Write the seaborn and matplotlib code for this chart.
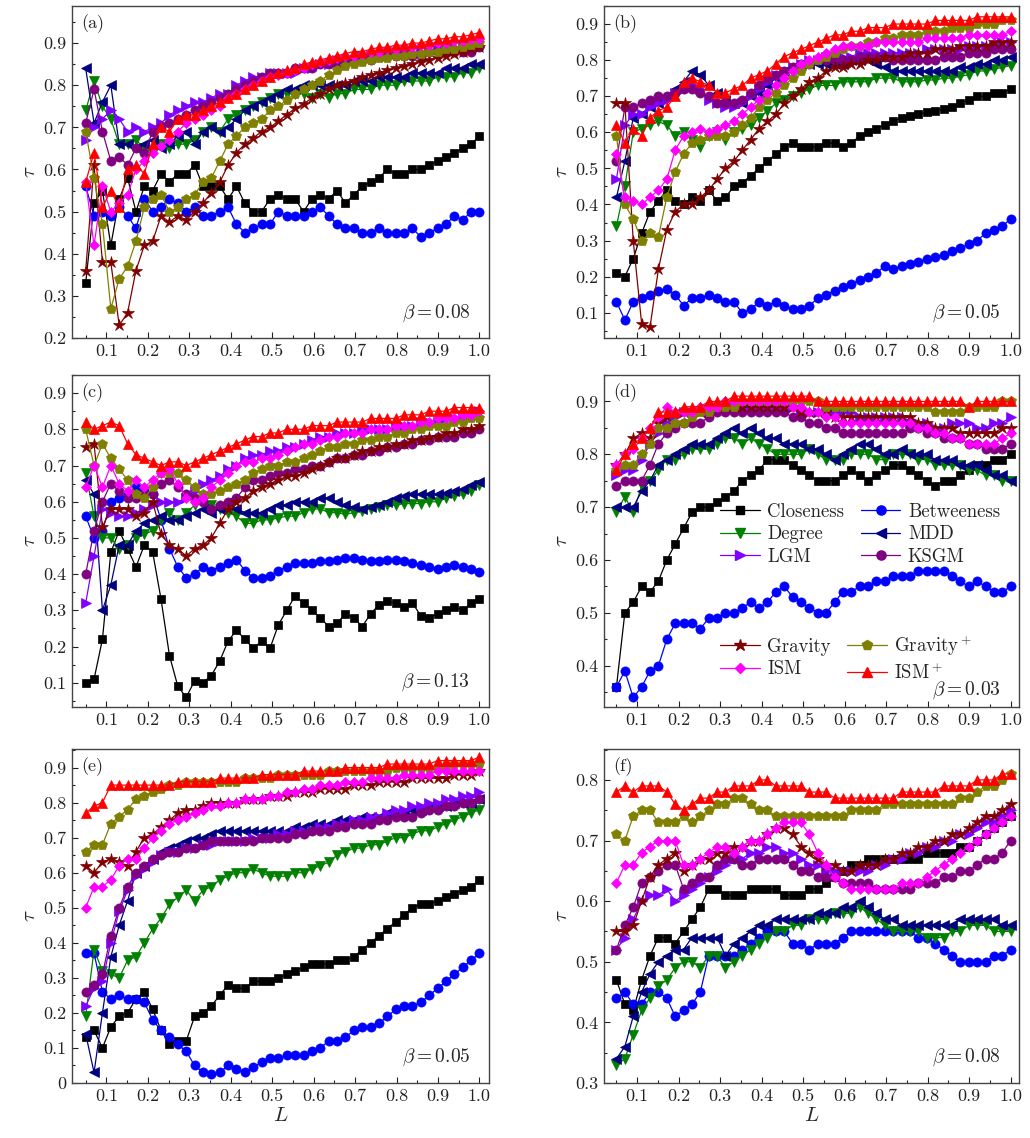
import numpy as np
import pandas as pd
import matplotlib
matplotlib.use("Agg")
import matplotlib.pyplot as plt
import seaborn as sns
from matplotlib.ticker import MultipleLocator, FuncFormatter
from matplotlib.lines import Line2D

# ---------------- data ----------------
L = np.linspace(0.05, 1.0, 48)
method_names = ["Closeness", "Betweeness", "Degree", "MDD", "LGM", "KSGM",
                "Gravity", "Gravity$^+$", "ISM", "ISM$^+$"]
panel_labels = ["(a)", "(b)", "(c)", "(d)", "(e)", "(f)"]
beta_values = ["0.08", "0.05", "0.13", "0.03", "0.05", "0.08"]

# panel (a)
a_closeness = [0.33,0.52,0.55,0.42,0.53,0.58,0.50,0.56, 0.55,0.59,0.57,0.59,0.59,0.61,0.56,0.56,
               0.56,0.53,0.56,0.52,0.50,0.50,0.53,0.54, 0.53,0.53,0.50,0.53,0.54,0.53,0.55,0.52,
               0.54,0.56,0.57,0.58,0.60,0.59,0.59,0.60, 0.60,0.61,0.62,0.63,0.64,0.65,0.66,0.68]
a_betweeness = [0.56,0.49,0.50,0.49,0.51,0.49,0.46,0.53, 0.50,0.51,0.53,0.52,0.50,0.51,0.49,0.49,
                0.50,0.51,0.47,0.45,0.46,0.47,0.47,0.50, 0.49,0.49,0.49,0.50,0.51,0.49,0.47,0.46,
                0.46,0.45,0.45,0.46,0.45,0.45,0.45,0.46, 0.44,0.45,0.46,0.47,0.49,0.48,0.50,0.50]
a_degree = [0.74,0.81,0.75,0.72,0.66,0.66,0.67,0.65, 0.64,0.66,0.65,0.66,0.66,0.67,0.69,0.70,
            0.69,0.72,0.73,0.74,0.75,0.76,0.77,0.78, 0.78,0.78,0.78,0.77,0.78,0.77,0.78,0.78,
            0.79,0.79,0.79,0.80,0.80,0.80,0.81,0.81, 0.81,0.81,0.82,0.82,0.82,0.83,0.83,0.84]
a_mdd = [0.84,0.71,0.76,0.80,0.66,0.66,0.65,0.66, 0.67,0.65,0.66,0.68,0.69,0.66,0.69,0.70,
         0.69,0.70,0.72,0.74,0.75,0.76,0.77,0.78, 0.79,0.79,0.80,0.80,0.80,0.80,0.80,0.80,
         0.81,0.81,0.81,0.82,0.82,0.82,0.82,0.83, 0.83,0.83,0.83,0.84,0.84,0.84,0.85,0.85]
a_lgm = [0.67,0.70,0.72,0.74,0.72,0.69,0.70,0.69, 0.70,0.71,0.73,0.74,0.75,0.76,0.76,0.77,
         0.78,0.78,0.80,0.81,0.82,0.82,0.83,0.83, 0.83,0.83,0.84,0.84,0.85,0.85,0.86,0.86,
         0.86,0.87,0.87,0.87,0.87,0.88,0.88,0.88, 0.88,0.88,0.89,0.89,0.89,0.89,0.89,0.89]
a_ksgm = [0.71,0.79,0.69,0.62,0.63,0.61,0.65,0.64, 0.69,0.70,0.71,0.72,0.73,0.74,0.75,0.76,
          0.77,0.78,0.79,0.80,0.81,0.82,0.83,0.83, 0.83,0.84,0.84,0.84,0.85,0.85,0.85,0.86,
          0.86,0.86,0.86,0.87,0.87,0.87,0.87,0.87, 0.87,0.88,0.88,0.88,0.88,0.88,0.88,0.89]
a_gravity = [0.36,0.61,0.38,0.38,0.23,0.26,0.36,0.42, 0.43,0.49,0.475,0.49,0.48,0.50,0.52,0.545,
             0.57,0.61,0.64,0.66,0.675,0.69,0.70,0.715, 0.73,0.745,0.755,0.77,0.78,0.79,0.80,0.805,
             0.81,0.82,0.825,0.83,0.835,0.84,0.845,0.85, 0.855,0.86,0.865,0.87,0.875,0.88,0.885,0.89]
a_gravity_p = [0.69,0.58,0.47,0.27,0.34,0.37,0.43,0.51, 0.53,0.54,0.50,0.51,0.53,0.54,0.57,0.58,
               0.62,0.66,0.68,0.70,0.71,0.72,0.74,0.75, 0.765,0.78,0.79,0.80,0.81,0.825,0.835,0.845,
               0.85,0.855,0.86,0.865,0.865,0.87,0.87,0.875, 0.875,0.88,0.88,0.885,0.885,0.89,0.895,0.90]
a_ism = [0.57,0.42,0.56,0.50,0.52,0.54,0.60,0.62, 0.64,0.655,0.67,0.69,0.71,0.72,0.73,0.74,
         0.75,0.77,0.78,0.79,0.80,0.81,0.82,0.825, 0.83,0.835,0.84,0.85,0.855,0.86,0.865,0.87,
         0.87,0.875,0.88,0.88,0.885,0.885,0.89,0.89, 0.895,0.895,0.90,0.90,0.905,0.905,0.91,0.91]
a_ism_p = [0.57,0.64,0.51,0.55,0.51,0.60,0.61,0.59, 0.66,0.70,0.69,0.72,0.73,0.73,0.74,0.75,
           0.76,0.77,0.78,0.79,0.80,0.81,0.82,0.83, 0.835,0.84,0.85,0.855,0.86,0.865,0.87,0.875,
           0.88,0.88,0.885,0.89,0.89,0.895,0.895,0.90, 0.90,0.905,0.91,0.91,0.915,0.915,0.92,0.925]

# panel (b)
b_closeness = [0.21,0.20,0.25,0.32,0.38,0.41,0.44,0.41, 0.40,0.42,0.41,0.44,0.41,0.42,0.45,0.46,
               0.48,0.50,0.52,0.54,0.56,0.57,0.56,0.56, 0.56,0.57,0.57,0.56,0.57,0.59,0.60,0.61,
               0.62,0.63,0.64,0.645,0.65,0.655,0.66,0.665, 0.67,0.68,0.69,0.70,0.70,0.71,0.71,0.72]
b_betweeness = [0.13,0.08,0.13,0.14,0.15,0.16,0.165,0.15, 0.12,0.14,0.14,0.15,0.14,0.13,0.13,0.10,
                0.11,0.13,0.12,0.13,0.12,0.11,0.11,0.12, 0.14,0.15,0.16,0.17,0.18,0.19,0.20,0.21,
                0.23,0.22,0.23,0.235,0.24,0.25,0.255,0.26, 0.27,0.28,0.29,0.30,0.32,0.33,0.34,0.36]
b_degree = [0.34,0.45,0.60,0.61,0.62,0.63,0.62,0.59, 0.60,0.58,0.56,0.59,0.60,0.58,0.60,0.61,
            0.62,0.64,0.66,0.68,0.69,0.70,0.71,0.72, 0.73,0.73,0.73,0.74,0.74,0.74,0.74,0.75,
            0.75,0.75,0.74,0.74,0.74,0.745,0.745,0.75, 0.75,0.755,0.76,0.77,0.77,0.775,0.78,0.785]
b_mdd = [0.42,0.52,0.64,0.65,0.67,0.68,0.70,0.72, 0.74,0.77,0.76,0.73,0.71,0.69,0.68,0.68,
         0.70,0.71,0.73,0.75,0.77,0.78,0.79,0.79, 0.79,0.79,0.79,0.79,0.80,0.80,0.80,0.79,
         0.78,0.77,0.77,0.77,0.77,0.77,0.77,0.77, 0.77,0.78,0.78,0.79,0.79,0.80,0.80,0.81]
b_lgm = [0.47,0.62,0.65,0.65,0.67,0.68,0.69,0.71, 0.72,0.73,0.72,0.69,0.68,0.67,0.67,0.68,
         0.70,0.72,0.74,0.76,0.77,0.78,0.79,0.80, 0.80,0.81,0.81,0.81,0.81,0.82,0.82,0.82,
         0.82,0.82,0.82,0.82,0.82,0.83,0.83,0.83, 0.83,0.83,0.84,0.84,0.84,0.84,0.85,0.85]
b_ksgm = [0.52,0.67,0.67,0.68,0.69,0.70,0.70,0.71, 0.72,0.72,0.71,0.70,0.68,0.68,0.68,0.69,
          0.71,0.73,0.75,0.76,0.77,0.78,0.79,0.79, 0.80,0.80,0.80,0.80,0.80,0.81,0.81,0.81,
          0.81,0.80,0.80,0.80,0.80,0.80,0.80,0.81, 0.81,0.81,0.82,0.82,0.82,0.83,0.83,0.83]
b_gravity = [0.68,0.68,0.30,0.07,0.06,0.22,0.33,0.38, 0.40,0.40,0.42,0.44,0.47,0.50,0.52,0.55,
             0.58,0.61,0.63,0.65,0.68,0.70,0.72,0.74, 0.75,0.77,0.78,0.78,0.79,0.79,0.80,0.80,
             0.81,0.81,0.81,0.82,0.82,0.82,0.83,0.83, 0.83,0.84,0.84,0.84,0.84,0.85,0.85,0.85]
b_gravity_p = [0.59,0.40,0.36,0.30,0.32,0.31,0.42,0.49, 0.54,0.57,0.58,0.59,0.59,0.59,0.60,0.62,
               0.64,0.67,0.69,0.71,0.73,0.75,0.77,0.79, 0.80,0.81,0.82,0.83,0.84,0.84,0.85,0.85,
               0.86,0.86,0.87,0.87,0.87,0.88,0.88,0.88, 0.89,0.89,0.89,0.90,0.90,0.90,0.91,0.91]
b_ism = [0.54,0.42,0.41,0.40,0.42,0.44,0.47,0.55, 0.59,0.60,0.61,0.60,0.61,0.62,0.63,0.65,
         0.67,0.69,0.71,0.73,0.75,0.77,0.79,0.80, 0.81,0.82,0.83,0.84,0.84,0.84,0.84,0.85,
         0.85,0.85,0.85,0.85,0.85,0.86,0.86,0.86, 0.86,0.86,0.87,0.87,0.87,0.87,0.87,0.88]
b_ism_p = [0.62,0.57,0.61,0.59,0.64,0.66,0.67,0.70, 0.74,0.75,0.74,0.73,0.71,0.71,0.72,0.73,
           0.75,0.76,0.77,0.79,0.81,0.82,0.83,0.84, 0.85,0.86,0.87,0.87,0.88,0.88,0.89,0.89,
           0.89,0.90,0.90,0.90,0.90,0.90,0.91,0.91, 0.91,0.91,0.91,0.92,0.92,0.92,0.92,0.92]

# panel (c)
c_closeness = [0.10,0.11,0.22,0.46,0.52,0.47,0.42,0.48, 0.46,0.33,0.175,0.09,0.06,0.105,0.10,0.12,
               0.16,0.215,0.245,0.22,0.195,0.215,0.195,0.26, 0.30,0.34,0.32,0.30,0.28,0.255,0.265,0.29,
               0.28,0.255,0.29,0.315,0.325,0.32,0.31,0.32, 0.285,0.28,0.29,0.30,0.31,0.30,0.32,0.33]
c_betweeness = [0.56,0.50,0.52,0.60,0.61,0.62,0.64,0.63, 0.62,0.55,0.47,0.42,0.39,0.40,0.42,0.41,
                0.42,0.43,0.44,0.41,0.39,0.39,0.395,0.41, 0.42,0.43,0.43,0.43,0.435,0.435,0.44,0.445,
                0.445,0.44,0.435,0.435,0.44,0.44,0.435,0.43, 0.425,0.42,0.415,0.42,0.425,0.42,0.415,0.405]
c_degree = [0.68,0.56,0.50,0.50,0.47,0.48,0.50,0.51, 0.52,0.55,0.57,0.55,0.57,0.59,0.60,0.59,
            0.58,0.57,0.56,0.54,0.54,0.55,0.55,0.555, 0.56,0.56,0.57,0.58,0.58,0.57,0.57,0.565,
            0.57,0.575,0.58,0.585,0.59,0.59,0.595,0.595, 0.595,0.60,0.60,0.61,0.615,0.62,0.63,0.645]
c_mdd = [0.66,0.62,0.30,0.37,0.48,0.48,0.52,0.54, 0.55,0.56,0.55,0.55,0.56,0.57,0.58,0.57,
         0.58,0.60,0.58,0.57,0.57,0.57,0.58,0.59, 0.59,0.60,0.60,0.60,0.61,0.61,0.60,0.59,
         0.585,0.58,0.585,0.59,0.60,0.61,0.615,0.62, 0.62,0.62,0.62,0.625,0.63,0.635,0.645,0.655]
c_lgm = [0.32,0.45,0.58,0.57,0.56,0.56,0.57,0.58, 0.59,0.60,0.60,0.60,0.61,0.63,0.65,0.66,
         0.67,0.69,0.70,0.72,0.73,0.73,0.74,0.74, 0.75,0.75,0.76,0.77,0.78,0.78,0.79,0.79,
         0.79,0.80,0.80,0.80,0.80,0.81,0.81,0.81, 0.82,0.82,0.82,0.83,0.83,0.84,0.84,0.85]
c_ksgm = [0.40,0.52,0.60,0.65,0.63,0.61,0.61,0.62, 0.62,0.65,0.66,0.64,0.62,0.61,0.60,0.58,
          0.59,0.60,0.61,0.64,0.66,0.66,0.67,0.68, 0.68,0.69,0.69,0.70,0.70,0.71,0.72,0.72,
          0.73,0.73,0.74,0.74,0.75,0.75,0.76,0.76, 0.77,0.77,0.78,0.78,0.78,0.79,0.79,0.80]
c_gravity = [0.75,0.76,0.53,0.58,0.58,0.58,0.56,0.57, 0.60,0.51,0.48,0.47,0.45,0.47,0.48,0.50,
             0.54,0.58,0.60,0.61,0.63,0.64,0.65,0.66, 0.67,0.67,0.68,0.69,0.70,0.71,0.72,0.72,
             0.73,0.74,0.74,0.75,0.75,0.76,0.76,0.77, 0.77,0.78,0.78,0.79,0.79,0.80,0.80,0.81]
c_gravity_p = [0.80,0.70,0.76,0.72,0.69,0.66,0.62,0.61, 0.64,0.68,0.68,0.68,0.66,0.64,0.62,0.62,
               0.63,0.64,0.65,0.66,0.68,0.69,0.70,0.70, 0.71,0.71,0.72,0.73,0.74,0.75,0.75,0.76,
               0.76,0.77,0.77,0.78,0.78,0.79,0.79,0.80, 0.80,0.81,0.81,0.81,0.82,0.82,0.83,0.83]
c_ism = [0.64,0.70,0.64,0.70,0.65,0.63,0.66,0.64, 0.66,0.68,0.69,0.65,0.61,0.60,0.61,0.64,
         0.66,0.68,0.70,0.71,0.71,0.72,0.72,0.73, 0.74,0.75,0.76,0.76,0.77,0.78,0.78,0.79,
         0.79,0.79,0.80,0.80,0.80,0.81,0.81,0.81, 0.82,0.82,0.83,0.83,0.83,0.84,0.84,0.85]
c_ism_p = [0.82,0.80,0.81,0.82,0.81,0.76,0.73,0.72, 0.71,0.70,0.71,0.71,0.70,0.71,0.72,0.73,
           0.74,0.75,0.76,0.77,0.78,0.78,0.79,0.79, 0.80,0.80,0.80,0.81,0.81,0.81,0.82,0.82,
           0.82,0.82,0.83,0.83,0.83,0.83,0.84,0.84, 0.84,0.85,0.85,0.85,0.86,0.86,0.86,0.86]

# panel (d)
d_closeness = [0.36,0.50,0.52,0.55,0.54,0.56,0.60,0.63, 0.66,0.69,0.70,0.70,0.71,0.72,0.73,0.75,
               0.76,0.77,0.79,0.79,0.79,0.78,0.77,0.76, 0.75,0.75,0.75,0.76,0.77,0.76,0.75,0.76,
               0.77,0.78,0.78,0.77,0.76,0.75,0.74,0.75, 0.75,0.76,0.77,0.78,0.78,0.79,0.79,0.80]
d_betweeness = [0.36,0.39,0.34,0.36,0.39,0.40,0.45,0.48, 0.48,0.48,0.47,0.49,0.49,0.50,0.50,0.51,
                0.52,0.51,0.52,0.54,0.55,0.53,0.52,0.51, 0.50,0.50,0.52,0.54,0.54,0.55,0.55,0.56,
                0.56,0.57,0.57,0.57,0.58,0.58,0.58,0.58, 0.57,0.56,0.55,0.56,0.55,0.54,0.54,0.55]
d_degree = [0.69,0.72,0.69,0.74,0.75,0.77,0.79,0.79, 0.80,0.81,0.81,0.81,0.82,0.83,0.83,0.82,
            0.83,0.82,0.81,0.80,0.80,0.80,0.80,0.81, 0.80,0.79,0.79,0.79,0.80,0.80,0.80,0.79,
            0.79,0.80,0.80,0.80,0.79,0.79,0.78,0.78, 0.78,0.78,0.77,0.77,0.76,0.76,0.75,0.75]
d_mdd = [0.70,0.70,0.70,0.73,0.75,0.78,0.79,0.80, 0.81,0.82,0.82,0.82,0.83,0.84,0.85,0.84,
         0.85,0.84,0.83,0.83,0.82,0.82,0.82,0.81, 0.81,0.80,0.79,0.80,0.81,0.82,0.82,0.81,
         0.80,0.80,0.81,0.80,0.80,0.80,0.79,0.79, 0.79,0.78,0.78,0.78,0.77,0.76,0.76,0.75]
d_lgm = [0.76,0.77,0.77,0.79,0.82,0.84,0.86,0.87, 0.88,0.88,0.88,0.88,0.89,0.89,0.89,0.89,
         0.89,0.89,0.89,0.89,0.89,0.89,0.88,0.88, 0.88,0.88,0.88,0.88,0.88,0.87,0.87,0.87,
         0.87,0.87,0.87,0.86,0.86,0.86,0.85,0.85, 0.86,0.86,0.86,0.85,0.85,0.86,0.86,0.87]
d_ksgm = [0.74,0.75,0.75,0.75,0.78,0.82,0.84,0.85, 0.86,0.86,0.86,0.87,0.88,0.88,0.88,0.88,
          0.88,0.88,0.88,0.88,0.88,0.87,0.87,0.86, 0.86,0.85,0.85,0.84,0.84,0.84,0.84,0.84,
          0.84,0.84,0.84,0.85,0.85,0.84,0.84,0.83, 0.83,0.83,0.82,0.82,0.81,0.81,0.81,0.82]
d_gravity = [0.78,0.80,0.83,0.84,0.83,0.86,0.87,0.88, 0.88,0.88,0.88,0.89,0.89,0.89,0.89,0.89,
             0.89,0.89,0.89,0.89,0.89,0.89,0.88,0.88, 0.88,0.88,0.87,0.87,0.87,0.87,0.87,0.87,
             0.87,0.87,0.87,0.87,0.86,0.86,0.85,0.85, 0.85,0.84,0.84,0.84,0.84,0.84,0.85,0.85]
d_gravity_p = [0.77,0.78,0.78,0.80,0.82,0.85,0.85,0.86, 0.86,0.87,0.88,0.88,0.89,0.89,0.89,0.90,
               0.90,0.90,0.90,0.90,0.90,0.90,0.90,0.90, 0.90,0.89,0.89,0.89,0.89,0.89,0.89,0.89,
               0.89,0.89,0.89,0.89,0.89,0.89,0.88,0.88, 0.88,0.88,0.89,0.89,0.89,0.89,0.90,0.90]
d_ism = [0.78,0.80,0.81,0.83,0.85,0.87,0.89,0.88, 0.88,0.88,0.89,0.89,0.89,0.90,0.90,0.90,
         0.90,0.90,0.90,0.90,0.90,0.89,0.89,0.88, 0.88,0.87,0.87,0.86,0.86,0.86,0.86,0.86,
         0.86,0.86,0.86,0.86,0.85,0.85,0.84,0.84, 0.83,0.83,0.82,0.82,0.82,0.82,0.83,0.84]
d_ism_p = [0.77,0.80,0.82,0.83,0.85,0.88,0.88,0.88, 0.89,0.89,0.89,0.90,0.90,0.90,0.91,0.91,
           0.91,0.91,0.91,0.91,0.91,0.91,0.91,0.91, 0.90,0.90,0.90,0.90,0.90,0.90,0.90,0.90,
           0.90,0.90,0.90,0.90,0.90,0.90,0.90,0.90, 0.90,0.90,0.89,0.90,0.90,0.90,0.90,0.90]

# panel (e)
e_closeness = [0.13,0.15,0.10,0.16,0.19,0.20,0.24,0.26, 0.21,0.15,0.11,0.12,0.12,0.19,0.20,0.22,
               0.25,0.28,0.27,0.27,0.29,0.29,0.29,0.30, 0.31,0.32,0.33,0.34,0.34,0.34,0.35,0.35,
               0.36,0.38,0.40,0.42,0.44,0.46,0.48,0.50, 0.51,0.51,0.52,0.53,0.54,0.55,0.56,0.58]
e_betweeness = [0.37,0.37,0.26,0.24,0.25,0.24,0.24,0.23, 0.18,0.15,0.13,0.11,0.09,0.05,0.03,0.025,
                0.03,0.05,0.04,0.03,0.045,0.06,0.07,0.07, 0.08,0.08,0.08,0.09,0.10,0.12,0.12,0.13,
                0.15,0.16,0.16,0.17,0.19,0.21,0.22,0.22, 0.23,0.25,0.27,0.29,0.31,0.33,0.35,0.37]
e_degree = [0.19,0.38,0.32,0.31,0.30,0.35,0.36,0.40, 0.44,0.47,0.51,0.53,0.55,0.52,0.55,0.56,
            0.58,0.59,0.60,0.60,0.61,0.60,0.59,0.59, 0.59,0.60,0.60,0.61,0.62,0.63,0.65,0.66,
            0.67,0.67,0.68,0.68,0.69,0.70,0.70,0.71, 0.72,0.72,0.73,0.74,0.75,0.76,0.77,0.78]
e_mdd = [0.14,0.03,0.20,0.36,0.45,0.52,0.60,0.62, 0.64,0.66,0.67,0.68,0.69,0.70,0.70,0.71,
         0.72,0.72,0.72,0.72,0.72,0.72,0.72,0.72, 0.72,0.73,0.73,0.74,0.74,0.74,0.75,0.75,
         0.75,0.76,0.76,0.76,0.77,0.77,0.77,0.78, 0.78,0.79,0.79,0.79,0.80,0.80,0.80,0.81]
e_lgm = [0.22,0.27,0.29,0.40,0.49,0.55,0.59,0.61, 0.63,0.65,0.66,0.66,0.67,0.67,0.68,0.68,
         0.69,0.69,0.69,0.69,0.70,0.70,0.70,0.71, 0.71,0.72,0.72,0.72,0.73,0.73,0.74,0.74,
         0.75,0.75,0.76,0.76,0.77,0.78,0.78,0.79, 0.79,0.80,0.80,0.81,0.81,0.82,0.82,0.83]
e_ksgm = [0.26,0.28,0.31,0.42,0.50,0.56,0.60,0.62, 0.64,0.65,0.66,0.66,0.67,0.67,0.68,0.69,
          0.69,0.69,0.69,0.69,0.69,0.70,0.70,0.70, 0.70,0.71,0.71,0.72,0.72,0.72,0.73,0.73,
          0.74,0.74,0.74,0.75,0.75,0.76,0.76,0.76, 0.77,0.78,0.78,0.79,0.79,0.80,0.80,0.81]
e_gravity = [0.62,0.60,0.63,0.64,0.63,0.62,0.66,0.70, 0.71,0.73,0.75,0.77,0.78,0.78,0.79,0.80,
             0.80,0.80,0.80,0.81,0.81,0.81,0.82,0.82, 0.82,0.83,0.83,0.83,0.84,0.84,0.84,0.84,
             0.85,0.85,0.85,0.86,0.86,0.86,0.86,0.87, 0.87,0.87,0.87,0.87,0.88,0.88,0.88,0.89]
e_gravity_p = [0.66,0.68,0.68,0.74,0.76,0.78,0.81,0.82, 0.83,0.84,0.85,0.85,0.86,0.86,0.86,0.86,
               0.86,0.86,0.86,0.87,0.87,0.87,0.87,0.88, 0.88,0.88,0.88,0.88,0.88,0.89,0.89,0.89,
               0.89,0.89,0.89,0.89,0.89,0.90,0.90,0.90, 0.90,0.90,0.90,0.90,0.91,0.91,0.91,0.91]
e_ism = [0.50,0.56,0.56,0.58,0.62,0.64,0.64,0.67, 0.70,0.72,0.74,0.75,0.76,0.77,0.78,0.79,
         0.79,0.80,0.80,0.81,0.81,0.81,0.82,0.82, 0.83,0.83,0.84,0.84,0.85,0.85,0.85,0.86,
         0.86,0.86,0.87,0.87,0.87,0.87,0.88,0.88, 0.88,0.88,0.89,0.89,0.89,0.89,0.89,0.89]
e_ism_p = [0.77,0.79,0.80,0.85,0.85,0.85,0.85,0.85, 0.85,0.85,0.85,0.86,0.86,0.86,0.86,0.86,
           0.87,0.87,0.87,0.87,0.87,0.88,0.88,0.88, 0.88,0.88,0.89,0.89,0.89,0.89,0.89,0.90,
           0.90,0.90,0.90,0.90,0.91,0.91,0.91,0.91, 0.91,0.91,0.92,0.92,0.92,0.92,0.92,0.93]

# panel (f)
f_closeness = [0.47,0.43,0.42,0.47,0.51,0.54,0.54,0.53, 0.55,0.57,0.59,0.62,0.62,0.61,0.61,0.61,
               0.62,0.62,0.62,0.62,0.61,0.61,0.61,0.62, 0.62,0.63,0.64,0.65,0.66,0.66,0.67,0.67,
               0.67,0.67,0.67,0.67,0.67,0.68,0.68,0.68, 0.68,0.69,0.69,0.70,0.71,0.72,0.73,0.74]
f_betweeness = [0.44,0.45,0.43,0.43,0.45,0.45,0.44,0.41, 0.42,0.43,0.45,0.51,0.51,0.51,0.51,0.52,
                0.53,0.54,0.55,0.55,0.55,0.53,0.53,0.52, 0.53,0.53,0.53,0.54,0.55,0.55,0.55,0.55,
                0.55,0.55,0.55,0.55,0.54,0.54,0.53,0.52, 0.51,0.50,0.50,0.50,0.50,0.51,0.51,0.52]
f_degree = [0.33,0.34,0.38,0.42,0.44,0.46,0.47,0.49, 0.50,0.50,0.49,0.51,0.51,0.49,0.50,0.51,
            0.52,0.53,0.54,0.55,0.55,0.56,0.56,0.57, 0.57,0.57,0.58,0.58,0.58,0.59,0.58,0.57,
            0.56,0.55,0.55,0.55,0.55,0.54,0.54,0.54, 0.55,0.55,0.56,0.56,0.56,0.55,0.55,0.55]
f_mdd = [0.34,0.36,0.41,0.45,0.48,0.50,0.51,0.52, 0.52,0.54,0.54,0.54,0.54,0.51,0.53,0.54,
         0.55,0.56,0.56,0.57,0.57,0.57,0.57,0.57, 0.58,0.58,0.58,0.59,0.59,0.60,0.59,0.58,
         0.57,0.57,0.56,0.56,0.56,0.56,0.56,0.56, 0.56,0.57,0.57,0.57,0.57,0.57,0.56,0.56]
f_lgm = [0.52,0.54,0.57,0.60,0.61,0.61,0.62,0.60, 0.61,0.62,0.63,0.64,0.65,0.66,0.67,0.67,
         0.68,0.68,0.69,0.69,0.68,0.68,0.67,0.66, 0.66,0.65,0.65,0.65,0.65,0.65,0.65,0.66,
         0.66,0.67,0.67,0.68,0.68,0.69,0.69,0.70, 0.70,0.71,0.71,0.72,0.73,0.73,0.74,0.75]
f_ksgm = [0.52,0.56,0.59,0.63,0.64,0.65,0.66,0.66, 0.62,0.63,0.64,0.64,0.66,0.67,0.67,0.66,
          0.66,0.67,0.67,0.67,0.67,0.66,0.65,0.65, 0.64,0.64,0.64,0.63,0.63,0.63,0.63,0.62,
          0.62,0.62,0.62,0.62,0.63,0.63,0.63,0.64, 0.64,0.65,0.65,0.66,0.67,0.67,0.68,0.70]
f_gravity = [0.55,0.55,0.56,0.60,0.64,0.66,0.67,0.68, 0.65,0.66,0.67,0.67,0.68,0.68,0.69,0.69,
             0.70,0.70,0.71,0.72,0.72,0.71,0.69,0.68, 0.67,0.66,0.66,0.65,0.65,0.66,0.66,0.66,
             0.67,0.67,0.68,0.68,0.69,0.69,0.70,0.70, 0.71,0.71,0.72,0.73,0.74,0.74,0.75,0.76]
f_gravity_p = [0.71,0.70,0.74,0.75,0.75,0.73,0.73,0.73, 0.74,0.73,0.74,0.75,0.76,0.76,0.77,0.77,
               0.76,0.75,0.75,0.74,0.74,0.74,0.74,0.74, 0.74,0.74,0.74,0.74,0.75,0.75,0.75,0.75,
               0.76,0.76,0.76,0.76,0.76,0.76,0.76,0.76, 0.76,0.77,0.77,0.78,0.79,0.79,0.80,0.81]
f_ism = [0.63,0.66,0.66,0.68,0.69,0.70,0.70,0.70, 0.66,0.66,0.67,0.68,0.69,0.69,0.68,0.69,
         0.70,0.70,0.71,0.72,0.73,0.73,0.73,0.71, 0.68,0.66,0.64,0.63,0.62,0.62,0.62,0.62,
         0.62,0.62,0.63,0.63,0.63,0.64,0.65,0.66, 0.67,0.68,0.69,0.70,0.71,0.72,0.73,0.74]
f_ism_p = [0.78,0.79,0.78,0.79,0.79,0.79,0.78,0.76, 0.75,0.76,0.77,0.77,0.78,0.78,0.79,0.79,
           0.79,0.80,0.80,0.79,0.79,0.79,0.79,0.78, 0.78,0.78,0.77,0.77,0.77,0.77,0.77,0.77,
           0.77,0.77,0.78,0.78,0.78,0.78,0.78,0.79, 0.79,0.79,0.79,0.80,0.80,0.80,0.81,0.81]

panel_series = [
    [a_closeness, a_betweeness, a_degree, a_mdd, a_lgm, a_ksgm, a_gravity, a_gravity_p, a_ism, a_ism_p],
    [b_closeness, b_betweeness, b_degree, b_mdd, b_lgm, b_ksgm, b_gravity, b_gravity_p, b_ism, b_ism_p],
    [c_closeness, c_betweeness, c_degree, c_mdd, c_lgm, c_ksgm, c_gravity, c_gravity_p, c_ism, c_ism_p],
    [d_closeness, d_betweeness, d_degree, d_mdd, d_lgm, d_ksgm, d_gravity, d_gravity_p, d_ism, d_ism_p],
    [e_closeness, e_betweeness, e_degree, e_mdd, e_lgm, e_ksgm, e_gravity, e_gravity_p, e_ism, e_ism_p],
    [f_closeness, f_betweeness, f_degree, f_mdd, f_lgm, f_ksgm, f_gravity, f_gravity_p, f_ism, f_ism_p],
]

# ---------------- style ----------------
colors = ["#000000", "#0000ff", "#008000", "#000080", "#8000ff", "#800080",
          "#800000", "#808000", "#ff00ff", "#ff0000"]
markers = ["s", "o", "v", "<", ">", "o", "*", "p", "D", "^"]
msizes = [6.0, 6.6, 7.0, 7.0, 7.0, 6.6, 9.0, 7.2, 5.6, 7.0]

sns.set_style("ticks")
plt.rcParams["font.family"] = ["cmr10", "DejaVu Serif"]
plt.rcParams["mathtext.fontset"] = "cm"
plt.rcParams["axes.unicode_minus"] = False
plt.rcParams["axes.formatter.use_mathtext"] = True

W, H = 1030, 1138
fig = plt.figure(figsize=(W / 100, H / 100), dpi=100)

col_x = [(72, 489), (604, 1019)]
row_y = [(6, 338), (375, 707), (749, 1083)]
xlims = [(0.017, 1.023), (0.02, 1.02)]
ylims = [(0.2, 0.988), (0.03, 0.95), (0.033, 0.95), (0.322, 0.95), (0.0, 0.953), (0.3, 0.851)]
ymaj = [(0.2, 0.9), (0.1, 0.9), (0.1, 0.9), (0.4, 0.9), (0.0, 0.9), (0.3, 0.8)]
beta_y = [0.075, 0.075, 0.075, 0.05, 0.078, 0.078]

fmt = FuncFormatter(lambda v, _: "0" if abs(v) < 1e-9 else f"{v:.1f}")

axes = []
for i in range(6):
    r, c = divmod(i, 2)
    x0, x1 = col_x[c]
    y0, y1 = row_y[r]
    ax = fig.add_axes([x0 / W, 1 - y1 / H, (x1 - x0) / W, (y1 - y0) / H])
    axes.append(ax)
    data = pd.DataFrame({
        "L": np.tile(L, len(method_names)),
        "tau": np.concatenate([np.asarray(s, dtype=float) for s in panel_series[i]]),
        "method": np.repeat(method_names, len(L)),
    })
    for j, m in enumerate(method_names):
        sub = data[data["method"] == m]
        sns.lineplot(data=sub, x="L", y="tau", ax=ax, color=colors[j], marker=markers[j],
                     markersize=msizes[j], markeredgecolor=colors[j], markeredgewidth=0.5,
                     linewidth=0.9, errorbar=None, legend=False, sort=False)
    ax.set_xlim(*xlims[c])
    ax.set_ylim(*ylims[i])
    ax.xaxis.set_major_locator(MultipleLocator(0.1))
    ax.xaxis.set_minor_locator(MultipleLocator(0.05))
    lo, hi = ymaj[i]
    ax.set_yticks(np.round(np.arange(lo, hi + 1e-6, 0.1), 2))
    ax.yaxis.set_minor_locator(MultipleLocator(0.05))
    ax.xaxis.set_major_formatter(fmt)
    ax.yaxis.set_major_formatter(fmt)
    ax.tick_params(which="both", direction="in", top=False, right=False,
                   labelsize=13, colors="#222222", width=0.8)
    ax.tick_params(which="major", length=4.5, pad=4)
    ax.tick_params(which="minor", length=2.5)
    for sp in ax.spines.values():
        sp.set_color("#444444")
        sp.set_linewidth(1.0)
    ax.set_ylabel(r"$\tau$", fontsize=15, labelpad=3)
    if r == 2:
        ax.set_xlabel(r"$L$", fontsize=15, labelpad=2)
    else:
        ax.set_xlabel("")
    ax.text(0.022, 0.975, panel_labels[i], transform=ax.transAxes, ha="left", va="top", fontsize=13)
    ax.text(0.955, beta_y[i], r"$\beta = " + beta_values[i] + "$", transform=ax.transAxes,
            ha="right", va="center", fontsize=14)

# legends in panel (d)
axd = axes[3]
handles = [Line2D([], [], color=colors[j], marker=markers[j], markersize=msizes[j],
                  markeredgecolor=colors[j], linewidth=0.9, label=method_names[j])
           for j in range(len(method_names))]
leg_kw = dict(ncol=2, loc="upper left", frameon=False, fontsize=13.5, handlelength=2.1,
              handletextpad=0.4, columnspacing=0.9, labelspacing=0.25, borderpad=0,
              borderaxespad=0)
leg1 = axd.legend(handles=[handles[0], handles[2], handles[4], handles[1], handles[3], handles[5]],
                  bbox_to_anchor=(0.28, 0.615), **leg_kw)
axd.add_artist(leg1)
axd.legend(handles=[handles[6], handles[8], handles[7], handles[9]],
           bbox_to_anchor=(0.28, 0.222), **leg_kw)

fig.savefig("out.png", dpi=100)
